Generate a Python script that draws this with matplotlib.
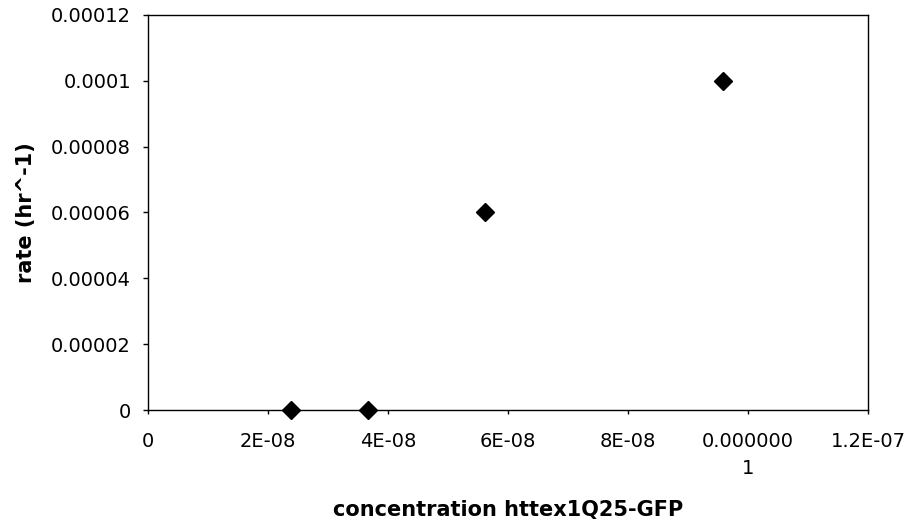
import matplotlib.pyplot as plt

# values
concentration = [2.38e-08, 3.67e-08, 5.62e-08, 9.58e-08]
rate = [0.0, 0.0, 0.00006, 0.0001]

x_ticks = [0, 2e-08, 4e-08, 6e-08, 8e-08, 1e-07, 1.2e-07]
x_labels = ['0', '2E-08', '4E-08', '6E-08', '8E-08', '0.000000\n1', '1.2E-07']
y_ticks = [0, 0.00002, 0.00004, 0.00006, 0.00008, 0.0001, 0.00012]
y_labels = ['0', '0.00002', '0.00004', '0.00006', '0.00008', '0.0001', '0.00012']

plt.rcParams['font.family'] = 'DejaVu Sans'

fig = plt.figure(figsize=(9.13, 5.25), dpi=100)
ax = fig.add_axes([148 / 913, 115 / 525, 720 / 913, 395 / 525])

ax.plot(concentration, rate, linestyle='none', marker='D', markersize=9.5,
        color='black', markeredgewidth=1, clip_on=False, zorder=5)

ax.set_xlim(0, 1.2e-07)
ax.set_ylim(0, 0.00012)
ax.set_xticks(x_ticks)
ax.set_xticklabels(x_labels, linespacing=1.5)
ax.set_yticks(y_ticks)
ax.set_yticklabels(y_labels)
ax.tick_params(labelsize=14, width=1, color='black')
ax.tick_params(axis='x', length=3, pad=13)
ax.tick_params(axis='y', length=3.6, pad=8.6)

for s in ax.spines.values():
    s.set_linewidth(1)
    s.set_color('black')

ax.set_xlabel('concentration httex1Q25-GFP', fontsize=15, fontweight='bold')
ax.set_ylabel('rate (hr^-1)', fontsize=15, fontweight='bold')
ax.xaxis.set_label_coords(0.5, -0.228)
ax.yaxis.set_label_coords(-0.155, 0.5)

fig.savefig('out.png', dpi=100)
